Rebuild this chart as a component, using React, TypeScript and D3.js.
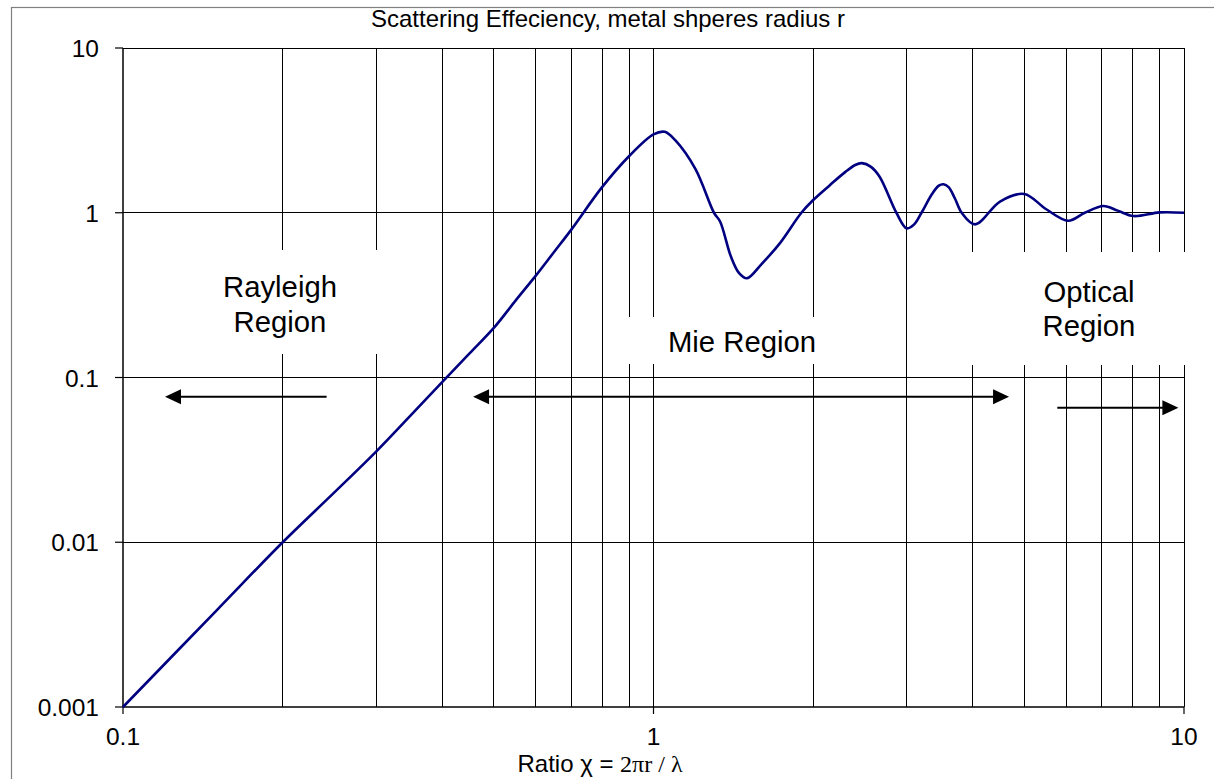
import React from "react";
import * as d3 from "d3";

const W = 1214;
const H = 779;

// Curve: scattering efficiency vs ratio
const ratioX = [0.1, 0.15, 0.2, 0.25, 0.3, 0.35, 0.4, 0.45, 0.5, 0.55, 0.6, 0.65, 0.7, 0.8, 0.9, 1.0, 1.05, 1.1, 1.2, 1.3, 1.335, 1.4, 1.45, 1.5, 1.6, 1.73, 1.9, 2.0, 2.15, 2.3, 2.4, 2.47, 2.57, 2.67, 2.87, 3.0, 3.1, 3.2, 3.35, 3.45, 3.52, 3.6, 3.7, 3.81, 4.04, 4.5, 5.0, 5.5, 6.05, 6.5, 7.05, 7.5, 8.03, 9, 10];
const efficiency = [0.001, 0.00385, 0.01, 0.02, 0.0355, 0.0597, 0.094, 0.14, 0.2, 0.294, 0.415, 0.58, 0.79, 1.43, 2.21, 2.99, 3.1, 2.75, 1.84, 1.0, 0.885, 0.54, 0.43, 0.4, 0.49, 0.652, 1.0, 1.195, 1.47, 1.77, 1.95, 2.0, 1.9, 1.65, 1.0, 0.805, 0.85, 1.0, 1.3, 1.46, 1.49, 1.43, 1.22, 1.0, 0.85, 1.17, 1.3, 1.05, 0.895, 1.0, 1.1, 1.03, 0.955, 1.005, 1.0];

const xTickValues = [0.1, 1, 10];
const xTickLabels = ["0.1", "1", "10"];
const yTickValues = [0.001, 0.01, 0.1, 1, 10];
const yTickLabels = ["0.001", "0.01", "0.1", "1", "10"];
const xGridValues = [0.2, 0.3, 0.4, 0.5, 0.6, 0.7, 0.8, 0.9, 1, 2, 3, 4, 5, 6, 7, 8, 9, 10];
const yGridValues = [0.01, 0.1, 1, 10];

// arrows
const arrowFrom = [0.242, 0.457, 5.77];
const arrowTo = [0.12, 4.68, 9.76];
const arrowY = [0.0765, 0.0765, 0.0656];
const arrowDouble = [false, true, false];

const title = "Scattering Effeciency, metal shperes radius r";

export default function App() {
  const x = d3.scaleLog().domain([0.1, 10]).range([123, 1184]);
  const y = d3.scaleLog().domain([0.001, 10]).range([707, 48]);

  const pts: [number, number][] = ratioX.map((v, i) => [x(v), y(efficiency[i])]);
  const line = d3.line().curve(d3.curveCatmullRom.alpha(0.5))(pts) || "";

  const arrowHead = (tipX: number, tipY: number, dir: number) => {
    const L = 16, hw = 7.5;
    return `M${tipX},${tipY} L${tipX - dir * L},${tipY - hw} L${tipX - dir * L},${tipY + hw} Z`;
  };

  const font = "Arial, 'Liberation Sans', sans-serif";

  return (
    <svg width={W} height={H} style={{ position: "absolute", left: 0, top: 0, background: "#fff" }} fontFamily={font}>
      <rect x={0} y={0} width={W} height={H} fill="#fff" />
      {/* outer chart border */}
      <rect x={11.5} y={7.5} width={W + 20} height={H + 20} fill="none" stroke="#808080" strokeWidth={1.2} />

      {/* title */}
      <text x={608} y={27} fontSize={24} textAnchor="middle" fill="#000">{title}</text>

      {/* vertical grid */}
      {xGridValues.map((v) => (
        <line key={"vx" + v} x1={x(v)} x2={x(v)} y1={y(10)} y2={y(0.001)} stroke="#000" strokeWidth={1} shapeRendering="crispEdges" />
      ))}
      {/* horizontal grid */}
      {yGridValues.map((v) => (
        <line key={"hy" + v} x1={x(0.1)} x2={x(10)} y1={y(v)} y2={y(v)} stroke="#000" strokeWidth={1} shapeRendering="crispEdges" />
      ))}

      {/* label boxes (white, cover grid) */}
      <rect x={205} y={250} width={190} height={104} fill="#fff" />
      <rect x={615} y={317} width={255} height={47} fill="#fff" />
      <rect x={955} y={252} width={270} height={113} fill="#fff" />

      {/* axes */}
      <line x1={x(0.1)} x2={x(0.1)} y1={y(10)} y2={y(0.001)} stroke="#000" strokeWidth={1.5} />
      <line x1={x(0.1)} x2={x(10)} y1={y(0.001)} y2={y(0.001)} stroke="#000" strokeWidth={1.5} />
      {yTickValues.map((v, i) => (
        <g key={"yt" + v}>
          <line x1={x(0.1) - 8} x2={x(0.1)} y1={y(v)} y2={y(v)} stroke="#000" strokeWidth={1.2} />
          <text x={99} y={y(v) + 9} fontSize={24.5} textAnchor="end" fill="#000">{yTickLabels[i]}</text>
        </g>
      ))}
      {xTickValues.map((v, i) => (
        <g key={"xt" + v}>
          <line x1={x(v)} x2={x(v)} y1={y(0.001)} y2={y(0.001) + 7} stroke="#000" strokeWidth={1.2} />
          <text x={x(v)} y={745} fontSize={24.5} textAnchor="middle" fill="#000">{xTickLabels[i]}</text>
        </g>
      ))}

      {/* x axis title */}
      <text x={600} y={771.5} fontSize={24} textAnchor="middle" fill="#000">
        Ratio χ = <tspan fontFamily="'Liberation Serif', 'Times New Roman', serif">2πr / λ</tspan>
      </text>

      {/* region labels */}
      <text x={280} y={296.7} fontSize={29.3} textAnchor="middle" fill="#000">Rayleigh</text>
      <text x={280} y={331.7} fontSize={29.3} textAnchor="middle" fill="#000">Region</text>
      <text x={742} y={351.7} fontSize={29.3} textAnchor="middle" fill="#000">Mie Region</text>
      <text x={1089} y={301.7} fontSize={29.3} textAnchor="middle" fill="#000">Optical</text>
      <text x={1089} y={336} fontSize={29.3} textAnchor="middle" fill="#000">Region</text>

      {/* arrows */}
      {arrowFrom.map((f, i) => {
        const x1 = x(f), x2 = x(arrowTo[i]), yy = y(arrowY[i]);
        const dir = x2 > x1 ? 1 : -1;
        return (
          <g key={"ar" + i}>
            <line x1={arrowDouble[i] ? x1 + dir * 10 : x1} x2={x2 - dir * 10} y1={yy} y2={yy} stroke="#000" strokeWidth={2} />
            <path d={arrowHead(x2, yy, dir)} fill="#000" />
            {arrowDouble[i] && <path d={arrowHead(x1, yy, -dir)} fill="#000" />}
          </g>
        );
      })}

      {/* curve */}
      <path d={line} fill="none" stroke="#000080" strokeWidth={2.6} strokeLinejoin="round" />
    </svg>
  );
}
